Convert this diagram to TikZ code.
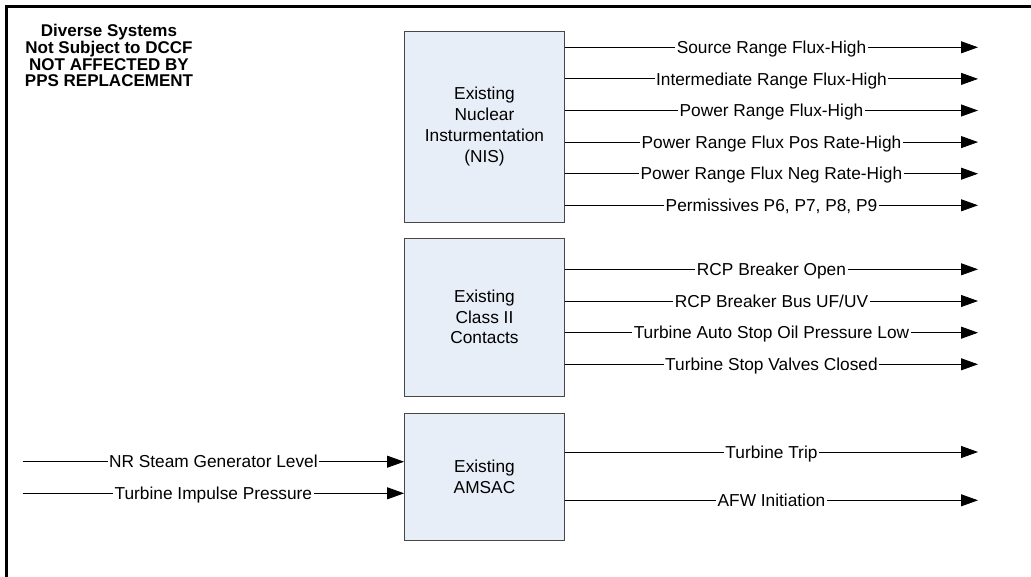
\documentclass[tikz,border=0pt]{standalone}
\usepackage{fontspec}
\setmainfont{Liberation Sans}
\usetikzlibrary{arrows.meta}
\definecolor{boxfill}{RGB}{232,238,247}
\definecolor{boxline}{RGB}{70,70,70}
\begin{document}
\begin{tikzpicture}[x=1pt,y=-1pt,
  blk/.style={draw=boxline, line width=0.9pt, fill=boxfill, minimum width=160pt,
    align=center, inner sep=0pt, font=\fontsize{17.3}{20.8}\selectfont},
  arr/.style={line width=0.8pt, -{Triangle[length=17pt,width=12pt]}},
  lbl/.style={fill=white, inner xsep=1.5pt, inner ysep=1pt, anchor=base,
    yshift=-6.2pt, font=\fontsize{17.3}{20}\selectfont},
  frame/.style={line width=3pt}]
\useasboundingbox (0,0) rectangle (1031,577);

% outer frame
\coordinate (fb) at (6.3,577);
\coordinate (fc) at (6.3,6.5);
\coordinate (fr) at (1031,6.5);
\draw[frame] (fb) -- (fc) -- (fr);

% title
\node[font=\bfseries\fontsize{17}{16.7}\selectfont, align=center, inner sep=0pt] (title) at (109,55.7)
  {Diverse Systems\\Not Subject to DCCF\\NOT AFFECTED BY\\PPS REPLACEMENT};

% boxes
\node[blk, minimum height=191pt] (nis) at (484.5,126.5) {Existing\\Nuclear\\Insturmentation\\(NIS)};
\node[blk, minimum height=158pt] (cls) at (484.5,317) {Existing\\Class II\\Contacts};
\node[blk, minimum height=127pt] (ams) at (484.5,476.5) {Existing\\AMSAC};

% output end points
\coordinate (o1) at (978,47.3);
\coordinate (o2) at (978,78.9);
\coordinate (o3) at (978,110.5);
\coordinate (o4) at (978,142.1);
\coordinate (o5) at (978,173.7);
\coordinate (o6) at (978,205.3);
\coordinate (c1) at (978,269.3);
\coordinate (c2) at (978,301);
\coordinate (c3) at (978,332.7);
\coordinate (c4) at (978,364.3);
\coordinate (a1) at (978,452);
\coordinate (a2) at (978,500.3);
\coordinate (i1) at (22.7,461.7);
\coordinate (i2) at (22.7,493.3);

% NIS outputs
\draw[arr] (nis.east |- o1) -- node[lbl, midway]{Source Range Flux-High} (o1);
\draw[arr] (nis.east |- o2) -- node[lbl, midway]{Intermediate Range Flux-High} (o2);
\draw[arr] (nis.east |- o3) -- node[lbl, midway]{Power Range Flux-High} (o3);
\draw[arr] (nis.east |- o4) -- node[lbl, midway]{Power Range Flux Pos Rate-High} (o4);
\draw[arr] (nis.east |- o5) -- node[lbl, midway]{Power Range Flux Neg Rate-High} (o5);
\draw[arr] (nis.east |- o6) -- node[lbl, midway]{Permissives P6, P7, P8, P9} (o6);

% Class II outputs
\draw[arr] (cls.east |- c1) -- node[lbl, midway]{RCP Breaker Open} (c1);
\draw[arr] (cls.east |- c2) -- node[lbl, midway]{RCP Breaker Bus UF/UV} (c2);
\draw[arr] (cls.east |- c3) -- node[lbl, midway]{Turbine Auto Stop Oil Pressure Low} (c3);
\draw[arr] (cls.east |- c4) -- node[lbl, midway]{Turbine Stop Valves Closed} (c4);

% AMSAC outputs
\draw[arr] (ams.east |- a1) -- node[lbl, midway]{Turbine Trip} (a1);
\draw[arr] (ams.east |- a2) -- node[lbl, midway]{AFW Initiation} (a2);

% AMSAC inputs
\draw[arr] (i1) -- node[lbl, midway]{NR Steam Generator Level} (ams.west |- i1);
\draw[arr] (i2) -- node[lbl, midway]{Turbine Impulse Pressure} (ams.west |- i2);
\end{tikzpicture}
\end{document}
